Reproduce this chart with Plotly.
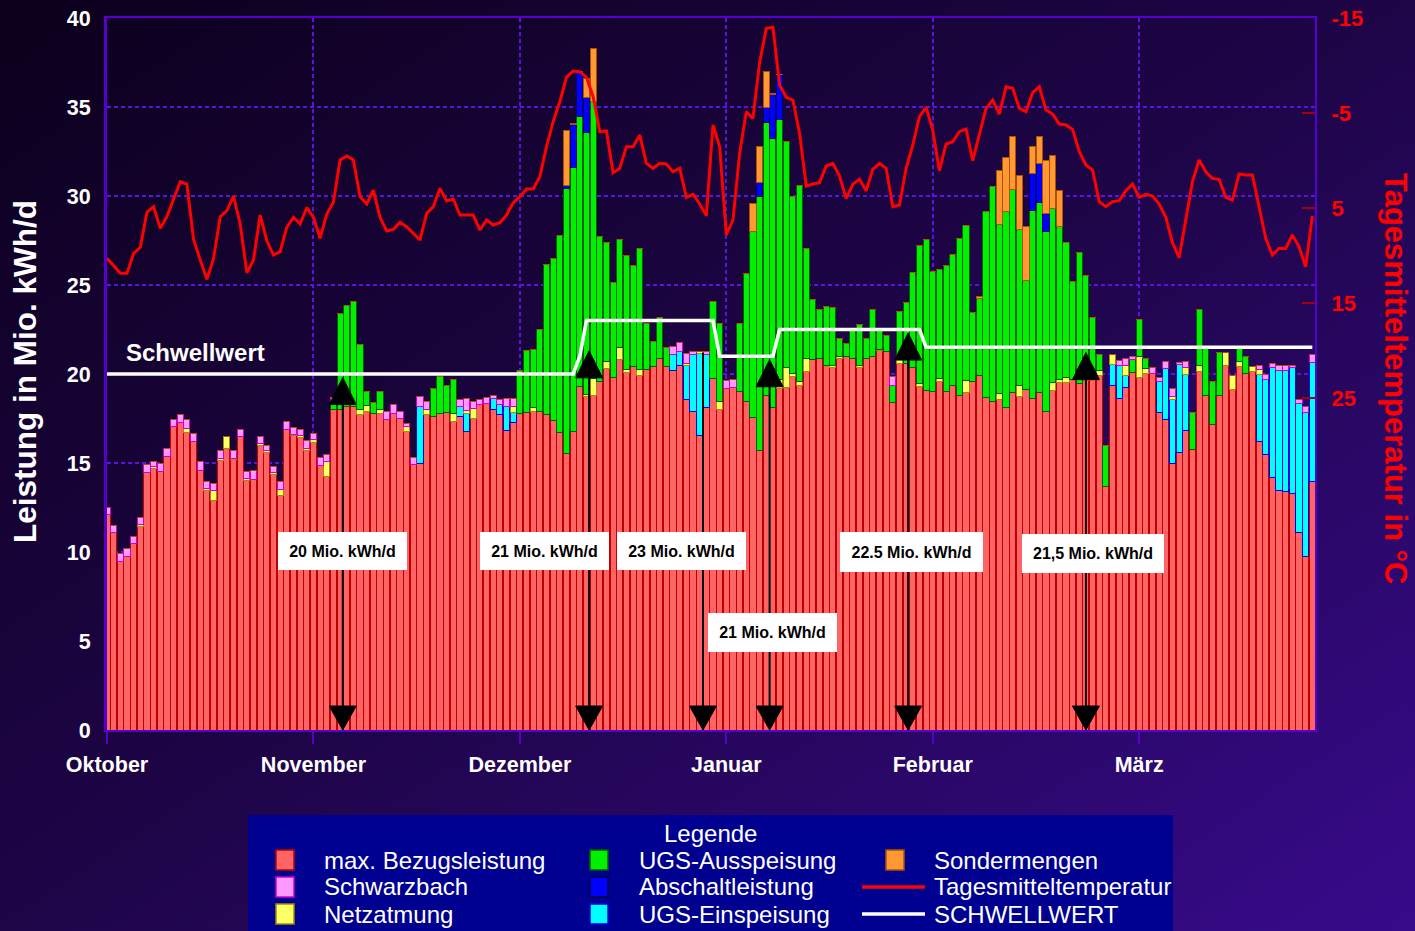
import base64
import plotly.graph_objects as go

# ---------------- data ----------------
month_labels = ["Oktober", "November", "Dezember", "Januar", "Februar", "März"]
month_tick_days = [0, 31, 62, 93, 124, 155]
temp_ticks = [-15, -5, 5, 15, 25]
temp_tick_labels = ["-15", "-5", "5", "15", "25"]

# max. Bezugsleistung (Mio. kWh/d), one value per day
bezug = [
    12.08, 11.10, 9.46, 9.74, 10.45, 11.42, 14.46, 14.69, 14.50, 15.36,
    17.04, 17.26, 16.70, 16.20, 14.60, 13.48, 12.92, 15.13, 15.82, 15.17,
    16.48, 14.04, 14.10, 16.00, 15.58, 14.33, 13.20, 16.90, 16.52, 16.44,
    15.69, 16.14, 14.85, 14.23, 18.00, 18.00, 18.15, 18.17, 17.70, 17.88,
    17.80, 17.80, 17.45, 17.80, 17.50, 16.76, 14.94, 14.98, 17.75, 17.60,
    17.80, 17.83, 17.32, 17.60, 16.76, 17.50, 18.31, 18.35, 17.98, 17.70,
    16.85, 17.26, 17.80, 17.85, 17.92, 17.90, 17.73, 17.36, 16.70, 15.54,
    16.76, 19.29, 18.73, 18.82, 19.57, 20.30, 19.80, 20.79, 20.08, 20.41,
    19.94, 20.26, 20.40, 20.88, 20.41, 20.22, 20.45, 18.54, 17.88, 16.57,
    18.13, 19.76, 17.98, 19.19, 19.24, 19.00, 18.44, 17.56, 15.73, 18.82,
    18.13, 19.19, 19.24, 19.85, 19.33, 20.13, 20.79, 20.88, 20.45, 20.37,
    20.88, 20.97, 20.88, 20.37, 20.88, 21.00, 21.30, 21.25, 18.39, 20.60,
    20.60, 20.37, 19.29, 19.10, 19.00, 19.57, 19.00, 19.38, 18.82, 18.97,
    19.57, 19.94, 18.69, 18.44, 18.57, 18.11, 18.95, 18.76, 19.14, 18.63,
    18.95, 17.92, 19.06, 19.51, 19.51, 19.70, 19.47, 19.62, 19.85, 19.89,
    13.67, 19.33, 18.63, 19.24, 20.08, 19.80, 20.04, 20.04, 17.83, 17.45,
    14.98, 15.58, 16.85, 15.77, 20.13, 18.82, 17.19, 18.82, 20.50, 19.14,
    20.41, 20.04, 20.13, 16.20, 15.45, 14.19, 13.45, 13.40, 13.30, 11.08,
    9.74, 13.95,
]

# UGS-Einspeisung
einspeisung = [
    0, 0, 0, 0, 0, 0, 0, 0, 0, 0,
    0, 0, 0, 0, 0, 0, 0, 0, 0, 0,
    0, 0, 0, 0, 0, 0, 0, 0, 0, 0,
    0, 0, 0, 0, 0, 0, 0, 0, 0, 0,
    0, 0, 0, 0, 0, 0, 0, 3.19, 0, 0,
    0, 0, 0, 0.60, 1.00, 0, 0, 0, 0.65, 0.61,
    1.35, 0.60, 0, 0, 0, 0, 0, 0, 0, 0,
    0, 0, 0, 0, 0, 0, 0, 0, 0, 0,
    0, 0, 0, 0, 0, 0.90, 0.80, 1.96, 3.19, 4.59,
    2.94, 0, 0, 0, 0, 0, 0, 0, 0, 0,
    0, 0, 0, 0, 0, 0, 0, 0, 0, 0,
    0, 0, 0, 0, 0, 0, 0, 0, 0, 0,
    0, 0, 0, 0, 0, 0, 0, 0, 0, 0,
    0, 0, 0, 0, 0, 0, 0, 0, 0, 0,
    0, 0, 0, 0, 0, 0, 0, 0, 0, 0,
    0, 1.23, 1.82, 0.65, 0, 0, 0, 0, 1.74, 2.87,
    3.60, 4.98, 3.15, 0, 0, 0, 0, 0, 0, 0,
    0, 0, 0, 3.80, 4.25, 6.18, 6.77, 6.79, 7.07, 7.27,
    8.09, 6.69,
]

# Netzatmung
netzatmung = [
    0, 0, 0, 0, 0, 0.10, 0, 0.10, 0, 0,
    0, 0, 0.24, 0, 0, 0.10, 0.53, 0.15, 0.66, 0.10,
    0, 0.10, 0, 0.10, 0.10, 0.13, 0.32, 0, 0.08, 0.08,
    0.10, 0.19, 0, 0.84, 0, 0, 0, 0, 0.30, 0.35,
    0, 0.20, 0, 0, 0, 0.28, 0, 0, 0.23, 0,
    0, 0, 0.47, 0, 0.20, 0.57, 0, 0, 0, 0,
    0, 0.30, 0, 0, 0.20, 0, 0, 0, 0, 0,
    0, 0, 0.10, 0.94, 0, 0.39, 0, 0.69, 0.15, 0,
    0.32, 0, 0, 0, 0, 0, 0, 0.10, 0, 0.09,
    0, 0, 0.46, 0, 0, 0, 0, 0, 0, 0,
    0, 0.50, 1.10, 0.20, 0.24, 0.75, 0, 0, 0, 0.10,
    0.10, 0, 0, 0.10, 0, 0, 0.10, 0, 0, 0.30,
    0, 0, 0.15, 0, 0, 0.15, 0, 0, 0, 0.69,
    0, 0, 0, 0, 0.34, 0, 0, 0.57, 0, 0,
    0, 0, 0.45, 0.19, 0.29, 0, 0, 0.23, 0.20, 0.30,
    0, 0.56, 0, 0.61, 0, 1.17, 0.28, 0, 0, 0,
    0.15, 0, 0.37, 0, 0.37, 0, 0, 0, 0.70, 0.80,
    0.28, 0, 0.28, 0.26, 0, 0, 0, 0, 0, 0,
    0, 0,
]

# UGS-Ausspeisung
ausspeisung = [
    0, 0, 0, 0, 0, 0, 0, 0, 0, 0,
    0, 0, 0, 0, 0, 0, 0, 0, 0, 0,
    0, 0, 0, 0, 0, 0, 0, 0, 0, 0,
    0, 0, 0, 0, 0.30, 5.40, 5.69, 5.93, 3.63, 0.77,
    0.60, 1.00, 0, 0, 0, 0, 0, 0, 0, 1.59,
    2.05, 1.50, 1.91, 0, 0, 0, 0, 0, 0, 0,
    0, 0, 2.40, 3.45, 3.23, 4.60, 8.43, 9.14, 11.09, 14.89,
    14.84, 15.17, 14.73, 15.54, 8.13, 6.69, 5.33, 6.05, 6.40, 5.69,
    6.80, 2.58, 1.40, 2.29, 1.09, 0, 0, 0, 0, 0,
    0, 4.30, 4.40, 0, 0, 3.84, 7.21, 10.47, 14.23, 15.31,
    15.11, 14.61, 12.75, 9.95, 11.01, 6.18, 3.37, 2.72, 3.33, 3.27,
    1.02, 0.75, 1.59, 2.33, 1.12, 2.63, 1.16, 0.94, 0.99, 2.60,
    3.40, 5.32, 7.77, 8.43, 6.75, 6.16, 7.12, 7.36, 8.78, 8.71,
    3.87, 4.31, 10.43, 12.08, 9.49, 11.01, 11.39, 8.80, 6.14, 10.58,
    10.69, 10.08, 9.79, 8.58, 7.58, 5.49, 7.35, 5.66, 3.13, 0.88,
    2.34, 0, 0, 0, 0.74, 2.09, 0.56, 0, 0, 0,
    0, 0, 0, 2.06, 3.10, 2.71, 2.38, 2.38, 0, 0,
    0.84, 0.97, 0, 0, 0, 0, 0, 0, 0, 0,
    0, 0,
]

# Schwarzbach
schwarzbach = [
    0.42, 0.40, 0.44, 0.46, 0.41, 0.43, 0.44, 0.31, 0.48, 0.44,
    0.41, 0.47, 0.48, 0.43, 0.47, 0.37, 0.41, 0.45, 0, 0.46,
    0.42, 0.36, 0.47, 0.38, 0.32, 0.34, 0.43, 0.44, 0.40, 0.37,
    0.45, 0.30, 0.47, 0.43, 0.40, 0, 0, 0, 0, 0,
    0, 0, 0.47, 0.46, 0.40, 0.18, 0.38, 0.56, 0.46, 0,
    0, 0, 0, 0.34, 0.67, 0.37, 0.26, 0.34, 0.19, 0.23,
    0.43, 0.45, 0, 0, 0, 0, 0, 0, 0, 0,
    0, 0, 0, 0, 0, 0, 0, 0, 0, 0,
    0, 0, 0, 0, 0, 0.45, 0.52, 0.56, 0.22, 0,
    0.22, 0, 0, 0.47, 0.46, 0, 0, 0, 0, 0,
    0, 0, 0, 0, 0, 0, 0, 0, 0, 0,
    0, 0, 0, 0, 0, 0, 0, 0, 0.47, 0,
    0, 0, 0, 0, 0, 0, 0, 0, 0, 0,
    0, 0, 0, 0, 0, 0, 0, 0, 0, 0,
    0, 0, 0, 0, 0, 0, 0, 0, 0, 0,
    0, 0, 0.30, 0.38, 0.18, 0, 0, 0.33, 0.23, 0.37,
    0.46, 0.08, 0.32, 0, 0, 0, 0, 0, 0, 0,
    0, 0, 0, 0.24, 0.30, 0.23, 0.28, 0.26, 0.08, 0.22,
    0.33, 0.43,
]

# Abschaltleistung
abschalt = [
    0, 0, 0, 0, 0, 0, 0, 0, 0, 0,
    0, 0, 0, 0, 0, 0, 0, 0, 0, 0,
    0, 0, 0, 0, 0, 0, 0, 0, 0, 0,
    0, 0, 0, 0, 0, 0, 0, 0, 0, 0,
    0, 0, 0, 0, 0, 0, 0, 0, 0, 0,
    0, 0, 0, 0, 0, 0, 0, 0, 0, 0,
    0, 0, 0, 0, 0, 0, 0, 0, 0, 0.17,
    2.40, 2.52, 1.96, 0, 0, 0, 0, 0, 0, 0,
    0, 0, 0, 0, 0, 0, 0, 0, 0, 0,
    0, 0, 0, 0, 0, 0, 0, 0, 0.79, 0.83,
    2.46, 2.50, 0, 0, 0, 0, 0, 0, 0, 0,
    0, 0, 0, 0, 0, 0, 0, 0, 0, 0,
    0, 0, 0, 0, 0, 0, 0, 0, 0, 0,
    0, 0, 0, 0, 0, 0, 0, 0, 0, 2.03,
    2.19, 1.03, 0, 0, 0, 0, 0, 0, 0, 0,
    0, 0, 0, 0, 0, 0, 0, 0, 0, 0,
    0, 0, 0, 0, 0, 0, 0, 0, 0, 0,
    0, 0, 0, 0, 0, 0, 0, 0, 0, 0,
    0, 0,
]

# Sondermengen
sonder = [
    0, 0, 0, 0, 0, 0, 0, 0, 0, 0,
    0, 0, 0, 0, 0, 0, 0, 0, 0, 0,
    0, 0, 0, 0, 0, 0, 0, 0, 0, 0,
    0, 0, 0, 0, 0, 0, 0, 0, 0, 0,
    0, 0, 0, 0, 0, 0, 0, 0, 0, 0,
    0, 0, 0, 0, 0, 0, 0, 0, 0, 0,
    0, 0, 0, 0, 0, 0, 0, 0, 0, 3.10,
    0.08, 0, 1.08, 2.96, 0, 0, 0, 0, 0, 0,
    0, 0, 0, 0, 0, 0, 0, 0, 0, 0,
    0, 0, 0, 0, 0, 0, 0, 1.56, 2.05, 2.06,
    0.06, 0.05, 0, 0, 0, 0, 0, 0, 0, 0,
    0, 0, 0, 0, 0, 0, 0, 0, 0, 0,
    0, 0, 0, 0, 0, 0, 0, 0, 0, 0,
    0, 0.12, 0, 0, 3.06, 3.03, 3.03, 3.05, 3.03, 1.53,
    1.54, 2.99, 3.00, 2.02, 0, 0, 0, 0, 0, 0,
    0, 0, 0, 0, 0, 0, 0, 0, 0, 0,
    0, 0, 0, 0, 0, 0, 0, 0, 0, 0,
    0, 0, 0, 0, 0, 0, 0, 0, 0, 0,
    0, 0,
]

# Tagesmitteltemperatur (°C)
temperatur = [
    10.30, 11.10, 11.88, 11.88, 9.77, 9.14, 5.45, 4.86, 7.14, 5.91,
    4.09, 2.23, 2.51, 8.30, 10.47, 12.51, 10.30, 5.91, 5.28, 3.74,
    6.68, 11.81, 10.47, 5.74, 8.44, 9.95, 9.60, 7.03, 5.98, 6.68,
    4.96, 5.98, 8.19, 5.63, 4.40, -0.05, -0.47, -0.05, 3.81, 4.58,
    3.11, 5.98, 7.42, 7.25, 6.51, 6.97, 7.67, 8.37, 5.56, 4.86,
    2.93, 4.26, 4.05, 5.74, 5.74, 5.74, 7.32, 6.26, 6.79, 6.54,
    5.74, 4.44, 3.81, 3.00, 3.00, 1.70, -1.45, -4.09, -6.19, -8.75,
    -9.42, -9.35, -8.75, -6.72, -3.03, -3.11, 1.28, 0.82, -1.45, -1.45,
    -2.68, 0.30, 0.82, 0.30, 0.37, 1.18, 0.82, 3.88, 3.56, 4.58,
    5.81, -3.74, -1.45, 7.84, 6.26, -0.75, -5.14, -4.44, -10.30, -13.91,
    -14.02, -7.95, -6.65, -6.37, -2.86, 2.68, 2.47, 2.33, 0.58, 0.30,
    1.63, 3.98, 2.51, 1.98, 3.18, 0.93, 0.30, 0.82, 4.86, 4.68,
    0.82, -1.63, -4.61, -5.60, -3.21, 1.07, -1.74, -1.98, -3.03, -3.32,
    0.02, -2.68, -5.49, -6.37, -4.89, -7.77, -7.60, -5.49, -5.14, -7.14,
    -7.77, -5.32, -4.89, -3.84, -3.74, -3.28, -0.93, 0.47, 1.00, 4.33,
    4.86, 4.33, 4.23, 3.18, 2.47, 3.88, 3.56, 3.74, 4.58, 5.98,
    8.65, 10.23, 6.09, 2.23, -0.05, 1.18, 1.88, 1.98, 3.88, 4.16,
    1.42, 1.53, 1.53, 4.86, 8.19, 9.95, 9.25, 9.25, 7.84, 9.07,
    11.18, 5.84,
]

# Schwellwert (Mio. kWh/d)
schwellwert = [
    20, 20, 20, 20, 20, 20, 20, 20, 20, 20,
    20, 20, 20, 20, 20, 20, 20, 20, 20, 20,
    20, 20, 20, 20, 20, 20, 20, 20, 20, 20,
    20, 20, 20, 20, 20, 20, 20, 20, 20, 20,
    20, 20, 20, 20, 20, 20, 20, 20, 20, 20,
    20, 20, 20, 20, 20, 20, 20, 20, 20, 20,
    20, 20, 20, 20, 20, 20, 20, 20, 20, 20,
    20, 21, 23, 23, 23, 23, 23, 23, 23, 23,
    23, 23, 23, 23, 23, 23, 23, 23, 23, 23,
    23, 23, 21, 21, 21, 21, 21, 21, 21, 21,
    21, 22.5, 22.5, 22.5, 22.5, 22.5, 22.5, 22.5, 22.5, 22.5,
    22.5, 22.5, 22.5, 22.5, 22.5, 22.5, 22.5, 22.5, 22.5, 22.5,
    22.5, 22.5, 22.5, 21.5, 21.5, 21.5, 21.5, 21.5, 21.5, 21.5,
    21.5, 21.5, 21.5, 21.5, 21.5, 21.5, 21.5, 21.5, 21.5, 21.5,
    21.5, 21.5, 21.5, 21.5, 21.5, 21.5, 21.5, 21.5, 21.5, 21.5,
    21.5, 21.5, 21.5, 21.5, 21.5, 21.5, 21.5, 21.5, 21.5, 21.5,
    21.5, 21.5, 21.5, 21.5, 21.5, 21.5, 21.5, 21.5, 21.5, 21.5,
    21.5, 21.5, 21.5, 21.5, 21.5, 21.5, 21.5, 21.5, 21.5, 21.5,
    21.5, 21.5,
]

days = list(range(len(bezug)))
for arr in (einspeisung, netzatmung, ausspeisung, schwarzbach, abschalt, sonder, temperatur, schwellwert):
    assert len(arr) == len(bezug), len(arr)

# ---------------- styling / layout helpers ----------------
FONT = "Arial, Liberation Sans, sans-serif"
FIG_W, FIG_H = 1415, 931
PL, PR, PT, PB = 107, 1315, 18, 730   # plot area in page pixels
AXIS = "#5500CC"
GRID = "#5A14E0"


def xp(px):
    return (px - PL) / (PR - PL)


def yp(py):
    return (PB - py) / (PB - PT)


fig = go.Figure()

bar_series = [
    ("max. Bezugsleistung", bezug, "#FF6464", "#C00000"),
    ("UGS-Einspeisung", einspeisung, "#00FFFF", "#0000F0"),
    ("Netzatmung", netzatmung, "#FFFF66", "#A09000"),
    ("UGS-Ausspeisung", ausspeisung, "#00F000", "#006000"),
    ("Schwarzbach", schwarzbach, "#FF99FF", "#CC00CC"),
    ("Abschaltleistung", abschalt, "#0000FF", "#000070"),
    ("Sondermengen", sonder, "#FF9933", "#B05000"),
]
for name, vals, fill, edge in bar_series:
    fig.add_trace(go.Bar(
        x=days, y=vals, name=name,
        marker=dict(color=fill, line=dict(color=edge, width=1)),
        showlegend=False,
    ))

fig.add_trace(go.Scatter(
    x=days, y=schwellwert, mode="lines", name="SCHWELLWERT",
    line=dict(color="white", width=3.5), showlegend=False,
))
fig.add_trace(go.Scatter(
    x=days, y=temperatur, mode="lines", name="Tagesmitteltemperatur",
    line=dict(color="#FF0000", width=3), yaxis="y2", showlegend=False,
))

shapes = []
annotations = []

# arrows (day position, apex value of upper triangle / top of line)
arrows = [(35.4, 19.8, True), (72.4, 21.3, True), (89.5, 21.2, False),
          (99.5, 20.8, True), (120.3, 22.3, True), (147.0, 21.2, True)]
X_MAX = 181.4
px_per_day = (PR - PL) / X_MAX
px_per_val = (PB - PT) / 40.0
hw = 13.5 / px_per_day
th = 27 / px_per_val
bh = 24 / px_per_val
for xd, top, tri in arrows:
    line_top = top - th if tri else top
    shapes.append(dict(type="line", xref="x", yref="y", x0=xd, x1=xd, y0=bh * 0.5, y1=line_top,
                       line=dict(color="black", width=2), layer="above"))
    if tri:
        shapes.append(dict(type="path", xref="x", yref="y", layer="above",
                           path=f"M {xd-hw},{top-th} L {xd+hw},{top-th} L {xd},{top} Z",
                           fillcolor="black", line=dict(color="black", width=1)))
    shapes.append(dict(type="path", xref="x", yref="y", layer="above",
                       path=f"M {xd-hw},{bh} L {xd+hw},{bh} L {xd},0 Z",
                       fillcolor="black", line=dict(color="black", width=1)))

# value boxes
boxes = [
    ("20 Mio. kWh/d", 342.5, 551, 129, 38),
    ("21 Mio. kWh/d", 544, 551, 129, 38),
    ("23 Mio. kWh/d", 681, 551, 129, 38),
    ("21 Mio. kWh/d", 772, 632.5, 129, 39),
    ("22.5 Mio. kWh/d", 911.5, 552, 143, 40),
    ("21,5 Mio. kWh/d", 1093, 553.5, 142, 39),
]
for txt, cx, cy, bw, bhh in boxes:
    annotations.append(dict(
        text=txt, xref="paper", yref="paper", x=xp(cx), y=yp(cy),
        xanchor="center", yanchor="middle", showarrow=False,
        width=bw, height=bhh, bgcolor="white", borderpad=0, borderwidth=0,
        font=dict(family=FONT, size=16, color="black", weight="bold"),
    ))

annotations.append(dict(
    text="Schwellwert", xref="paper", yref="paper", x=xp(124), y=yp(352),
    xanchor="left", yanchor="middle", showarrow=False,
    font=dict(family=FONT, size=24, color="white", weight="bold"),
))

# axis titles
annotations.append(dict(
    text="Leistung in Mio. kWh/d", xref="paper", yref="paper", x=xp(25), y=yp(372),
    xanchor="center", yanchor="middle", showarrow=False, textangle=-90,
    font=dict(family=FONT, size=31.5, color="white", weight="bold"),
))
annotations.append(dict(
    text="Tagesmitteltemperatur in °C", xref="paper", yref="paper", x=xp(1396), y=yp(378),
    xanchor="center", yanchor="middle", showarrow=False, textangle=90,
    font=dict(family=FONT, size=31, color="#FF0000", weight="bold"),
))

# legend box
shapes.append(dict(type="rect", xref="paper", yref="paper", layer="above",
                   x0=xp(248), x1=xp(1173), y0=yp(940), y1=yp(815),
                   fillcolor="#000090", line=dict(width=0)))
annotations.append(dict(
    text="Legende", xref="paper", yref="paper", x=xp(710), y=yp(834),
    xanchor="center", yanchor="middle", showarrow=False,
    font=dict(family=FONT, size=24, color="white"),
))
legend_items = [
    (0, 0, "rect", "#FF6464", "#C00000", "max. Bezugsleistung"),
    (0, 1, "rect", "#FF99FF", "#CC00CC", "Schwarzbach"),
    (0, 2, "rect", "#FFFF66", "#A09000", "Netzatmung"),
    (1, 0, "rect", "#00F000", "#006000", "UGS-Ausspeisung"),
    (1, 1, "rect", "#0000FF", "#000040", "Abschaltleistung"),
    (1, 2, "rect", "#00FFFF", "#0000F0", "UGS-Einspeisung"),
    (2, 0, "rect", "#FF9933", "#B05000", "Sondermengen"),
    (2, 1, "line", "#FF0000", None, "Tagesmitteltemperatur"),
    (2, 2, "line", "#FFFFFF", None, "SCHWELLWERT"),
]
sw_cx = [285, 599, 895]
tx_x = [322, 637, 932]
row_y = [860, 887, 914]
for col, row, kind, color, edge, label in legend_items:
    cy = row_y[row]
    if kind == "rect":
        shapes.append(dict(type="rect", xref="paper", yref="paper", layer="above",
                           x0=xp(sw_cx[col] - 9), x1=xp(sw_cx[col] + 9),
                           y0=yp(cy + 10), y1=yp(cy - 10),
                           fillcolor=color, line=dict(color=edge, width=1.5)))
    else:
        shapes.append(dict(type="line", xref="paper", yref="paper", layer="above",
                           x0=xp(862), x1=xp(925), y0=yp(cy), y1=yp(cy),
                           line=dict(color=color, width=3.5)))
    annotations.append(dict(
        text=label, xref="paper", yref="paper", x=xp(tx_x[col]), y=yp(cy),
        xanchor="left", yanchor="middle", showarrow=False,
        font=dict(family=FONT, size=24, color="white"),
    ))

# background gradient
svg = (f'<svg xmlns="http://www.w3.org/2000/svg" width="{FIG_W}" height="{FIG_H}" '
       f'viewBox="0 0 {FIG_W} {FIG_H}" preserveAspectRatio="none"><defs>'
       f'<linearGradient id="g" x1="0" y1="0" x2="1" y2="1">'
       f'<stop offset="0" stop-color="#0C001C"/><stop offset="0.5" stop-color="#1E0548"/>'
       f'<stop offset="1" stop-color="#380A8C"/></linearGradient></defs>'
       f'<rect width="{FIG_W}" height="{FIG_H}" fill="url(#g)"/></svg>')
svg_uri = "data:image/svg+xml;base64," + base64.b64encode(svg.encode()).decode()

tickfont_w = dict(family=FONT, size=21.5, color="white", weight="bold")

fig.update_layout(
    width=FIG_W, height=FIG_H,
    margin=dict(l=PL, r=FIG_W - PR, t=PT, b=FIG_H - PB, autoexpand=False),
    paper_bgcolor="#140330",
    plot_bgcolor="black",
    barmode="stack",
    bargap=0.08,
    showlegend=False,
    hovermode=False,
    images=[dict(source=svg_uri, xref="paper", yref="paper",
                 x=xp(0), y=yp(0), sizex=FIG_W / (PR - PL), sizey=FIG_H / (PB - PT),
                 xanchor="left", yanchor="top", sizing="stretch", layer="below")],
    xaxis=dict(
        range=[0, X_MAX], tickmode="array", tickvals=month_tick_days, ticktext=month_labels,
        showgrid=True, gridcolor=GRID, gridwidth=1.5, griddash="4px,3px",
        ticks="outside", ticklen=12, tickwidth=1.5, tickcolor=AXIS,
        showline=True, linecolor=AXIS, linewidth=2, mirror=True,
        tickfont=tickfont_w, ticklabelstandoff=2, zeroline=False, automargin=False,
        ticklabeloverflow="allow",
    ),
    yaxis=dict(
        range=[0, 40], tickmode="linear", tick0=0, dtick=5,
        showgrid=True, gridcolor=GRID, gridwidth=1.5, griddash="4px,3px",
        ticks="", showline=True, linecolor=AXIS, linewidth=3,
        tickfont=tickfont_w, ticklabelstandoff=9, zeroline=False, automargin=False,
        ticklabeloverflow="allow",
    ),
    yaxis2=dict(
        overlaying="y", side="right", range=[-15 + (PB - PT) / 9.5, -15],
        tickmode="array", tickvals=temp_ticks, ticktext=temp_tick_labels,
        ticks="inside", ticklen=13, tickwidth=2, tickcolor="#A00010",
        showgrid=False, showline=True, linecolor=AXIS, linewidth=2,
        tickfont=dict(family=FONT, size=22, color="#FF0000", weight="bold"),
        ticklabelstandoff=10, zeroline=False, automargin=False,
        ticklabeloverflow="allow",
    ),
    shapes=shapes,
    annotations=annotations,
)

# remove the default page margin so the figure fills the browser window exactly
fig.write_html("out.html", config={"displayModeBar": False},
               post_script="document.body.style.margin='0px';")
